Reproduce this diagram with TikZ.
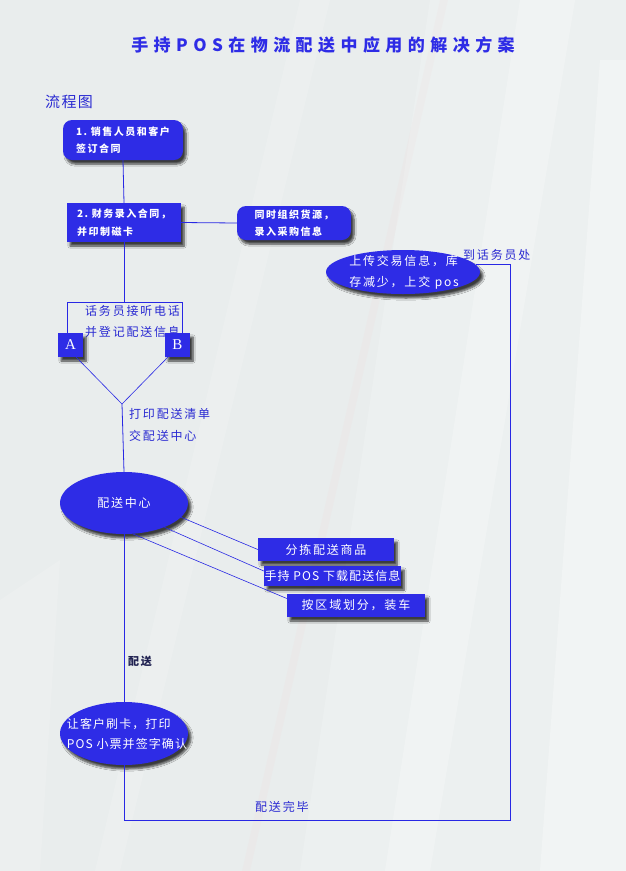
\documentclass[tikz,border=0pt]{standalone}
\usepackage{fontspec}
\setmainfont{Noto Sans CJK SC}
\newfontfamily\cjk[LetterSpace=15]{Noto Sans CJK SC}
\newfontfamily\cjks[LetterSpace=9]{Noto Sans CJK SC}
\newfontfamily\cjkt[LetterSpace=32]{Noto Sans CJK SC}
\newfontfamily\serifA{Liberation Serif}
\usetikzlibrary{shapes.geometric,shadows.blur}
\definecolor{pblue}{HTML}{2E2CE6}
\definecolor{lblue}{HTML}{2828E4}
\definecolor{tblue}{HTML}{2A2AD2}
\definecolor{navy}{HTML}{1E2050}
\definecolor{bgc}{HTML}{E9EDED}
\begin{document}
\begin{tikzpicture}[x=1pt,y=-1pt,
 shade/.style={blur shadow={shadow xshift=3pt,shadow yshift=-4pt,shadow opacity=75,shadow blur steps=6}},
 bx/.style={fill=pblue,shade,text=white,inner sep=0pt,align=left},
 rbox/.style={bx,rounded corners=9pt,font=\cjk\bfseries\fontsize{10}{17.5}\selectfont},
 sbox/.style={bx,font=\cjk\bfseries\fontsize{10}{17.5}\selectfont},
 tbox/.style={bx,font=\cjk\fontsize{12}{14}\selectfont},
 ab/.style={bx,minimum width=25pt,minimum height=24pt,font=\serifA\fontsize{15}{15}\selectfont},
 ell/.style={ellipse,fill=pblue,shade,inner sep=0pt},
 etext/.style={text=white,align=left,inner sep=0pt,font=\cjk\fontsize{12}{20.5}\selectfont},
 conn/.style={draw=lblue,line width=0.8pt},
 lbl/.style={text=tblue,align=left,inner sep=0pt,font=\cjk\fontsize{12}{21.5}\selectfont}
]
% background
\useasboundingbox (0,0) rectangle (626,871);
\fill[bgc] (0,0) rectangle (626,871);
\fill[white,opacity=0.18] (430,0) -- (626,0) -- (626,871) -- (300,871) -- cycle;
\fill[white,opacity=0.25] (520,0) -- (575,0) -- (430,871) -- (385,871) -- cycle;
\fill[white,opacity=0.3] (600,60) -- (626,60) -- (626,871) -- (540,871) -- cycle;
\fill[white,opacity=0.15] (300,0) -- (330,0) -- (120,871) -- (95,871) -- cycle;
\fill[red!30,opacity=0.05] (440,0) -- (448,0) -- (250,871) -- (242,871) -- cycle;
\fill[white,opacity=0.15] (0,600) -- (60,560) -- (40,871) -- (0,871) -- cycle;

% title
\node[text=pblue,inner sep=0pt,font=\cjkt\bfseries\fontsize{17}{17}\selectfont] (title) at (323,45) {手持POS在物流配送中应用的解决方案};
\node[text=tblue,inner sep=0pt,anchor=west,font=\cjks\fontsize{15}{15}\selectfont] (flow) at (45,102) {流程图};

% boxes
\node[rbox,minimum width=120pt,minimum height=40pt] (b1) at (123,140) {1.\ 销售人员和客户\\签订合同};
\node[sbox,minimum width=114pt,minimum height=39pt] (b2) at (124,222.5) {2.\ 财务录入合同，\\并印制磁卡};
\node[rbox,minimum width=114pt,minimum height=34pt] (b3) at (294,223) {同时组织货源，\\录入采购信息};

\draw[conn] (b1.south) -- (b2.north);
\draw[conn] (b2.east) -- (b3.west);

% operator frame
\coordinate (ftl) at (67,302);
\coordinate (ftr) at (182,302);
\draw[conn] (b2.south) -- (b2.south |- ftl);
\node[lbl,anchor=west] (tel) at (85,321.5) {话务员接听电话\\并登记配送信息};
\node[ab] (A) at (70.5,345) {A};
\node[ab] (B) at (177.5,345) {B};
\draw[conn] (A.north -| ftl) -- (ftl) -- (ftr) -- (B.north -| ftr);
\coordinate (j) at (122,404);
\draw[conn,line width=0.6pt] ([xshift=-7pt]A.south east) -- (j) -- ([xshift=3pt]B.south west);
\node[lbl,anchor=west] (print) at (129,425) {打印配送清单\\交配送中心};

% delivery centre
\node[ell,minimum width=128pt,minimum height=62pt] (c1) at (124,503) {};
\node[etext] (c1t) at (c1) {配送中心};
\draw[conn] (j) -- (c1.north);

\node[tbox,minimum width=136pt,minimum height=23pt] (s1) at (326,549.5) {分拣配送商品};
\node[tbox,minimum width=137pt,minimum height=20pt,font=\cjks\fontsize{12}{14}\selectfont] (s2) at (332.5,576) {手持 POS 下载配送信息};
\node[tbox,minimum width=138pt,minimum height=23pt] (s3) at (356,605.5) {按区域划分，装车};
\draw[conn,line width=0.6pt] (c1.-14) -- (s1.west);
\draw[conn,line width=0.6pt] (c1.-31) -- ([yshift=5pt]s2.west);
\draw[conn,line width=0.6pt] (c1.-74) -- ([yshift=7pt]s3.west);

% customer
\node[ell,minimum width=128pt,minimum height=63pt] (c2) at (124,733.5) {};
\node[etext,font=\cjks\fontsize{12}{20.5}\selectfont] (c2t) at (127,734) {让客户刷卡，打印\\POS 小票并签字确认};
\draw[conn] (c1.south) -- (c2.north);
\node[text=navy,inner sep=0pt,anchor=west,font=\cjk\bfseries\fontsize{11}{11}\selectfont] (ps) at (128,661) {配送};

% upload
\node[ell,minimum width=154pt,minimum height=44pt] (c3) at (403,272) {};
\node[etext] (c3t) at (404,272.5) {上传交易信息，库\\存减少，上交 pos};
\coordinate (corner) at (510,820);
\draw[conn] (c2.south) |- (corner) |- (c3.6);
\node[lbl,anchor=west] (done) at (255,807) {配送完毕};
\node[lbl,anchor=west] (back) at (463,255) {到话务员处};
\end{tikzpicture}
\end{document}
